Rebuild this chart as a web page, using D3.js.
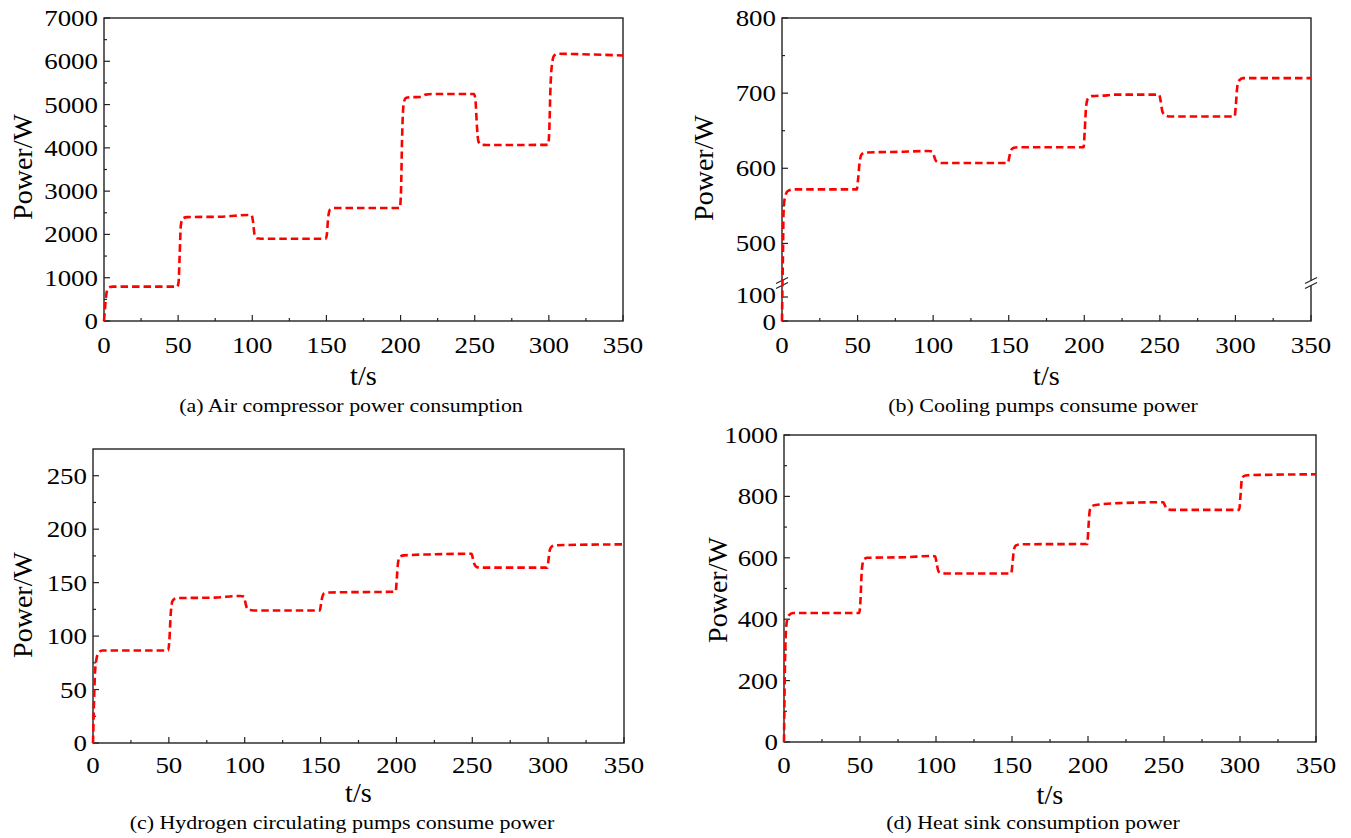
<!DOCTYPE html>
<html lang="en">
<head>
<meta charset="UTF-8">
<title>Power consumption</title>
<script src="https://d3js.org/d3.v7.min.js"></script>
<style>
  body { margin: 0; background: #fff; }
</style>
</head>
<body>
<svg id="chart" width="1351" height="838"></svg>
<script>
// time (s), power (W)
var airCompressor = [[0,0],[0.8,350],[1.5,600],[2.5,740],[4,785],[6,795],[49.5,795],[50.3,900],[51,1500],[51.8,2200],[53,2370],[56,2400],[80,2410],[97,2450],[99.5,2445],[100.5,2300],[101.5,2000],[103,1910],[106,1900],[149.5,1900],[150.3,2000],[151.2,2400],[152.5,2580],[155,2610],[199.5,2610],[200.3,3000],[201,4200],[202,5000],[203.5,5150],[207,5170],[214,5175],[217,5230],[222,5245],[249.5,5245],[250.5,5100],[251.5,4500],[252.5,4150],[254.5,4070],[258,4065],[299.5,4070],[300.3,4400],[301,5300],[302,5900],[303.5,6130],[306,6175],[320,6165],[350,6135]];
var coolingPumps = [[0,0],[0.3,200],[0.6,480],[1,540],[2,562],[4,570],[8,572],[49.5,572],[50.3,585],[51.2,605],[52.5,618],[55,621],[80,622],[97,623],[99.5,622],[100.5,617],[101.5,611],[103,608],[106,607],[149.5,607],[150.3,614],[151.3,623],[153,627],[156,628],[199.5,628],[200.3,650],[201.2,682],[202.5,693],[205,696],[215,697],[220,698],[249.5,698],[250.5,690],[251.5,677],[253,671],[256,669],[299.5,669],[300.3,685],[301.2,708],[302.5,717],[305,720],[350,720]];
var hydrogenPumps = [[0,0],[0.5,30],[1.2,62],[2,76],[3.5,84],[6,86.5],[49.5,86.5],[50.3,95],[51.2,120],[52.5,133],[55,135.5],[80,136],[97,137.5],[99.5,137],[100.5,131],[101.5,126],[103,124.5],[106,124],[149.5,124],[150.3,130],[151.2,137],[152.5,140],[156,140.8],[199.5,141.5],[200.3,155],[201.2,170],[202.5,174.5],[205,175.5],[225,176.5],[249.5,177],[250.5,172],[251.5,167],[253,164.5],[256,164],[299.5,164],[300.3,172],[301.2,181],[302.5,184],[305,185],[350,185.8]];
var heatSink = [[0,0],[0.4,180],[1,330],[1.8,390],[3,412],[6,420],[49.5,420],[50.3,460],[51.2,560],[52.5,595],[55,600],[80,602],[97,606],[99.5,604],[100.5,580],[101.5,558],[103,550],[106,549],[149.5,549],[150.3,580],[151.2,625],[152.5,640],[156,644],[199.5,645],[200.3,700],[201.2,755],[202.5,768],[205,772],[220,778],[249.5,781],[250.5,772],[251.5,762],[253,757],[256,756],[299.5,756],[300.3,800],[301.2,855],[302.5,866],[305,869],[350,872]];

var xTicks = [0, 50, 100, 150, 200, 250, 300, 350];
var xMinor = [25, 75, 125, 175, 225, 275, 325];
var captions = ["(a) Air compressor power consumption", "(b) Cooling pumps consume power",
                "(c) Hydrogen circulating pumps consume power", "(d) Heat sink consumption power"];

var svg = d3.select("#chart");
var serif = "'Liberation Serif', 'DejaVu Serif', serif";

var panels = [
  { data: airCompressor, left: 104, right: 623, top: 18, bottom: 321,
    yDomain: [0, 7000], yTicks: d3.range(0, 7001, 1000), yMinor: d3.range(500, 7000, 1000),
    yLabelX: 22, yLabelY: 167, tickY: 353, tsY: 385, capX: 351, capY: 412, caption: captions[0] },
  { data: coolingPumps, left: 782, right: 1311, top: 18, bottom: 321,
    yDomain: [0, 150, 450, 800], yRangeBreak: [285, 281],
    yTicks: [0, 100, 500, 600, 700, 800], yMinor: [550, 650, 750],
    yLabelX: 703, yLabelY: 168, tickY: 353, tsY: 385, capX: 1043, capY: 412, caption: captions[1], broken: 283 },
  { data: hydrogenPumps, left: 93, right: 624, top: 449, bottom: 743,
    yDomain: [0, 275], yTicks: d3.range(0, 251, 50), yMinor: d3.range(25, 275, 50),
    yLabelX: 22, yLabelY: 605, tickY: 773, tsY: 802, capX: 342, capY: 829, caption: captions[2] },
  { data: heatSink, left: 784, right: 1316, top: 435, bottom: 742,
    yDomain: [0, 1000], yTicks: d3.range(0, 1001, 200), yMinor: d3.range(100, 1000, 200),
    yLabelX: 717, yLabelY: 590, tickY: 773, tsY: 804, capX: 1033, capY: 829, caption: captions[3] }
];

// text drawn a little wider than the font, as in the picture
function wideText(g, tx, ty, str, size, sx, anchor) {
  return g.append("text")
    .attr("transform", "translate(" + tx + "," + ty + ") scale(" + sx + ",1)")
    .attr("text-anchor", anchor)
    .style("font-family", serif).style("font-size", size + "px")
    .text(str);
}

panels.forEach(function(p) {
  var x = d3.scaleLinear().domain([0, 350]).range([p.left, p.right]);
  var y = d3.scaleLinear().domain(p.yDomain)
    .range(p.yRangeBreak ? [p.bottom, p.yRangeBreak[0], p.yRangeBreak[1], p.top] : [p.bottom, p.top]);

  var g = svg.append("g");

  // frame
  g.append("rect")
    .attr("x", p.left).attr("y", p.top)
    .attr("width", p.right - p.left).attr("height", p.bottom - p.top)
    .attr("fill", "none").attr("stroke", "#222").attr("stroke-width", 1.4);

  // ticks pointing inside
  g.selectAll(".xt").data(xTicks).enter().append("line")
    .attr("x1", d => x(d)).attr("x2", d => x(d))
    .attr("y1", p.bottom).attr("y2", p.bottom - 6)
    .attr("stroke", "#222").attr("stroke-width", 1.2);
  g.selectAll(".xm").data(xMinor).enter().append("line")
    .attr("x1", d => x(d)).attr("x2", d => x(d))
    .attr("y1", p.bottom).attr("y2", p.bottom - 3)
    .attr("stroke", "#222").attr("stroke-width", 1.2);
  g.selectAll(".yt").data(p.yTicks).enter().append("line")
    .attr("x1", p.left).attr("x2", p.left + 6)
    .attr("y1", d => y(d)).attr("y2", d => y(d))
    .attr("stroke", "#222").attr("stroke-width", 1.2);
  g.selectAll(".ym").data(p.yMinor).enter().append("line")
    .attr("x1", p.left).attr("x2", p.left + 3)
    .attr("y1", d => y(d)).attr("y2", d => y(d))
    .attr("stroke", "#222").attr("stroke-width", 1.2);

  // tick labels
  xTicks.forEach(function(d) {
    wideText(g, x(d), p.tickY, d, 23, 1.17, "middle");
  });
  p.yTicks.forEach(function(d) {
    var ty = y(d) + 8;
    if (p.broken && d === 100) ty -= 2;
    if (p.broken && d === 0) ty += 1;
    wideText(g, p.left - 6, ty, d, 23, 1.17, "end");
  });

  // axis titles
  g.append("text")
    .attr("transform", "translate(" + p.yLabelX + "," + p.yLabelY + ") rotate(-90)")
    .attr("dy", "0.34em")
    .attr("text-anchor", "middle")
    .style("font-family", serif).style("font-size", "28px")
    .text("Power/W");
  wideText(g, (p.left + p.right) / 2, p.tsY, "t/s", 27, 1.05, "middle");
  wideText(g, p.capX, p.capY, p.caption, 18, 1.22, "middle");

  // axis break marks
  if (p.broken) {
    [p.left, p.right].forEach(function(bx) {
      g.append("rect").attr("x", bx - 2).attr("y", p.broken - 2.5)
        .attr("width", 4).attr("height", 5).attr("fill", "#fff");
      [-2.5, 2.5].forEach(function(o) {
        g.append("line")
          .attr("x1", bx - 6).attr("y1", p.broken + o + 3)
          .attr("x2", bx + 6).attr("y2", p.broken + o - 3)
          .attr("stroke", "#222").attr("stroke-width", 1.2);
      });
    });
  }

  // series
  var line = d3.line().x(d => x(d[0])).y(d => y(d[1])).curve(d3.curveMonotoneX);
  g.append("path")
    .datum(p.data)
    .attr("d", line)
    .attr("fill", "none")
    .attr("stroke", "#ff0000")
    .attr("stroke-width", 2.6)
    .attr("stroke-dasharray", "7.5,4");
});
</script>
</body>
</html>
